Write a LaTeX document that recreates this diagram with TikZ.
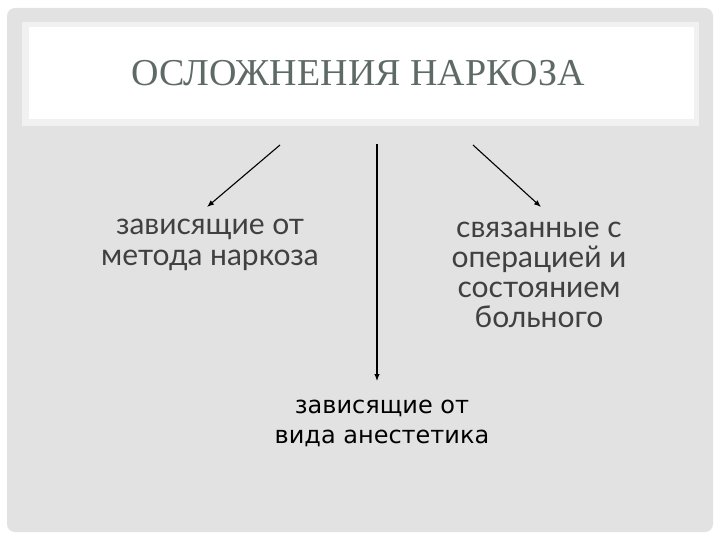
\documentclass[tikz,border=0pt]{standalone}
\usepackage{fontspec}
\setmainfont{Liberation Serif}
\newfontfamily\gothic{Lato}
\newfontfamily\tahoma{DejaVu Sans}
\usepackage{tikz}
\usetikzlibrary{calc,shapes,arrows.meta,positioning}
\usepackage{color}
\definecolor{slidegray}{HTML}{E2E2E2}
\definecolor{rimgray}{HTML}{F1F1F1}
\definecolor{titlegreen}{HTML}{5E6A66}
\definecolor{textgray}{HTML}{404040}

\begin{document}
\begin{tikzpicture}[x=1pt,y=-1pt,
  kind/.style={align=center,font=\gothic\fontsize{30}{30}\selectfont,text=textgray,inner sep=0pt,anchor=base},
  link/.style={-{Latex[length=7pt,width=5.5pt]},line width=1.1pt,black}]

\useasboundingbox (0,0) rectangle (720,540);
\fill[white] (0,0) rectangle (720,540);
\fill[slidegray,rounded corners=8pt] (7,8) rectangle (713,532);
\fill[rimgray] (22,22) rectangle (699,126);
\fill[white] (29,27) rectangle (694,119);

\node[text=titlegreen,font=\fontsize{38}{40}\selectfont] (title) at (358,73) {ОСЛОЖНЕНИЯ НАРКОЗА};

% the three groups of complications (base = last line)
\node[kind] (method) at (210,265) {зависящие от\\метода наркоза};
\node[kind] (state) at (539,327) {связанные с\\операцией и\\состоянием\\больного};
\node[kind,text=black,font=\tahoma\fontsize{24}{30}\selectfont] (agent) at (382,443) {зависящие от\\вида анестетика};

\coordinate (s1) at (280,145);
\coordinate (s2) at (377,144);
\coordinate (s3) at (473,145);
\coordinate (e1) at (207,207);
\coordinate (e2) at (377,381);
\coordinate (e3) at (541,207);

\foreach \i in {1,2,3}
  \draw[link] (s\i) -- (e\i);

\end{tikzpicture}
\end{document}
